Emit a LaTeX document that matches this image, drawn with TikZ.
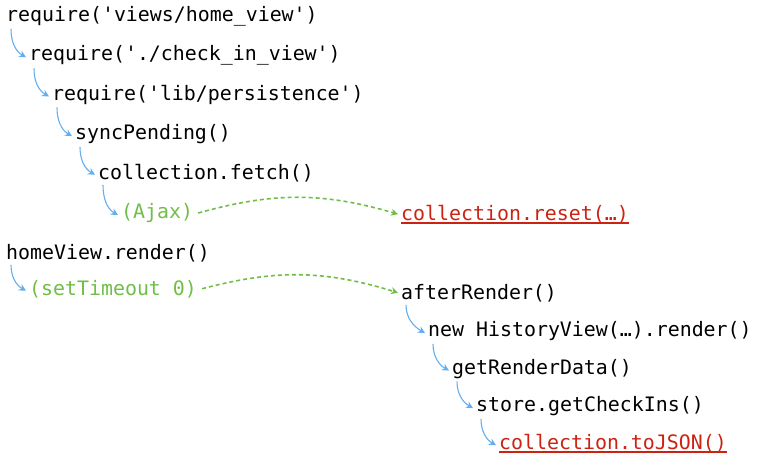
\documentclass[tikz,border=0pt]{standalone}
\usepackage{fontspec}
\setmonofont{DejaVu Sans Mono}
\usepackage{tikz}
\usetikzlibrary{arrows.meta}

\definecolor{callblue}{RGB}{98,174,240}
\definecolor{asyncgreen}{RGB}{112,190,72}
\definecolor{linkred}{RGB}{204,34,17}

\newcommand{\code}{\ttfamily\fontsize{19.9}{24}\selectfont}
\newcommand{\undl}[1]{\setbox0\hbox{#1}\rlap{\rule[-3.6pt]{\wd0}{1.6pt}}\box0}

\tikzset{
  call/.style={callblue, line width=1.1pt, -{Stealth[length=7pt,width=7pt]}},
  async/.style={asyncgreen, line width=1.6pt, dash pattern=on 4pt off 3pt, -{Stealth[length=7pt,width=7pt]}},
  wait/.style={text=asyncgreen},
  hit/.style={text=linkred}
}

\begin{document}
\begin{tikzpicture}[x=1pt,y=-1pt]
\tikzstyle{every node}+=[inner sep=0pt, anchor=base west, font=\code]
\useasboundingbox (0,0) rectangle (759,458);
% first load
\node (req1) at (6,21) {require('views/home\_view')};
\node (req2) at (29,60.5) {require('./check\_in\_view')};
\node (req3) at (52,100) {require('lib/persistence')};
\node (sync) at (75,139.5) {syncPending()};
\node (fetch) at (98,179) {collection.fetch()};
\node[wait] (ajax) at (121,218.5) {(Ajax)};
\node[hit] (reset) at (401,220) {\undl{collection.reset(…)}};
% render
\node (home) at (6,259) {homeView.render()};
\node[wait] (timeout) at (29,295) {(setTimeout 0)};
\node (after) at (401,299) {afterRender()};
\node (hist) at (428,336.5) {new HistoryView(…).render()};
\node (data) at (452,374) {getRenderData()};
\node (store) at (476,411.5) {store.getCheckIns()};
\node[hit] (json) at (499,449) {\undl{collection.toJSON()}};
% calls
\draw[call] ([xshift=5pt,yshift=-3pt]req1.south west) to[out=-90,in=150] ([xshift=-3pt,yshift=-2pt]req2.west);
\draw[call] ([xshift=5pt,yshift=-3pt]req2.south west) to[out=-90,in=150] ([xshift=-3pt,yshift=-2pt]req3.west);
\draw[call] ([xshift=5pt,yshift=-3pt]req3.south west) to[out=-90,in=150] ([xshift=-3pt,yshift=-2pt]sync.west);
\draw[call] ([xshift=5pt,yshift=-3pt]sync.south west) to[out=-90,in=150] ([xshift=-3pt,yshift=-2pt]fetch.west);
\draw[call] ([xshift=5pt,yshift=-3pt]fetch.south west) to[out=-90,in=150] ([xshift=-3pt,yshift=-2pt]ajax.west);
\draw[call] ([xshift=5pt,yshift=-3pt]home.south west) to[out=-90,in=150] ([xshift=-3pt,yshift=-2pt]timeout.west);
\draw[call] ([xshift=5pt,yshift=-3pt]after.south west) to[out=-90,in=150] ([xshift=-3pt,yshift=-2pt]hist.west);
\draw[call] ([xshift=5pt,yshift=-3pt]hist.south west) to[out=-90,in=150] ([xshift=-3pt,yshift=-2pt]data.west);
\draw[call] ([xshift=5pt,yshift=-3pt]data.south west) to[out=-90,in=150] ([xshift=-3pt,yshift=-2pt]store.west);
\draw[call] ([xshift=5pt,yshift=-3pt]store.south west) to[out=-90,in=150] ([xshift=-3pt,yshift=-2pt]json.west);
% async hops
\draw[async] ([xshift=5pt]ajax.east) to[bend left=16] ([xshift=-3pt]reset.west);
\draw[async] ([xshift=5pt]timeout.east) to[bend left=16] ([xshift=-3pt]after.west);
\end{tikzpicture}
\end{document}
